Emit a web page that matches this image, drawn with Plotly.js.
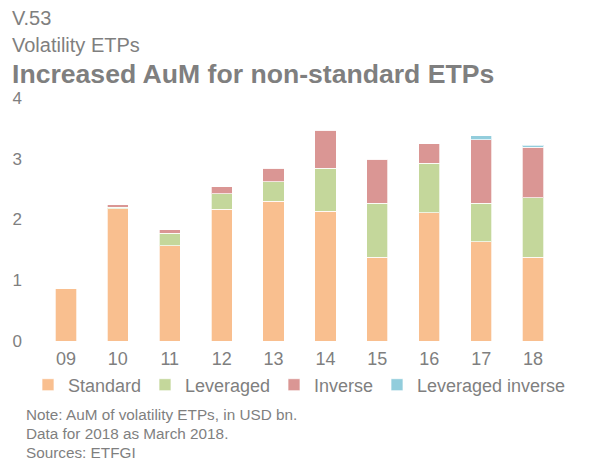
<!DOCTYPE html>
<html>
<head>
<meta charset="utf-8">
<script src="https://cdn.plot.ly/plotly-3.0.1.min.js"></script>
<style>
  body { margin: 0; background: #fff; }
  #chart { width: 589px; height: 462px; }
</style>
</head>
<body>
<div id="chart"></div>
<script>
// V.53 volatility ETPs, AuM in USD bn
const years = ["09", "10", "11", "12", "13", "14", "15", "16", "17", "18"];
const standard = [0.87, 2.18, 1.57, 2.17, 2.30, 2.14, 1.38, 2.11, 1.63, 1.38];
const leveraged = [0, 0.02, 0.20, 0.25, 0.32, 0.70, 0.89, 0.82, 0.64, 0.98];
const inverse = [0, 0.04, 0.06, 0.12, 0.22, 0.63, 0.72, 0.32, 1.04, 0.83];
const leveragedInverse = [0, 0, 0, 0, 0, 0, 0, 0, 0.07, 0.03];

const grey = "#7f7f7f";
const font = "Liberation Sans, Arial, sans-serif";
const plotW = 589 - 40 - 30;

// one legend per series so each entry sits where the original has it
function barTrace(name, values, color, legendId) {
    return {
        x: years,
        y: values,
        type: "bar",
        name: name,
        legend: legendId,
        marker: { color: color, line: { color: "rgba(255,255,255,0.7)", width: 1 } },
        hoverinfo: "x+y+name"
    };
}

function legendAt(px) {
    return {
        orientation: "h",
        x: (px - 40) / plotW,
        xanchor: "left",
        y: -0.105,
        yanchor: "top",
        bgcolor: "rgba(0,0,0,0)",
        font: { size: 18, color: grey },
        itemwidth: 30
    };
}

const data = [
    barTrace("Standard", standard, "#f9bf8f", "legend"),
    barTrace("Leveraged", leveraged, "#c4d79b", "legend2"),
    barTrace("Inverse", inverse, "#da9694", "legend3"),
    barTrace("Leveraged inverse", leveragedInverse, "#92cddc", "legend4")
];

const layout = {
    width: 589,
    height: 462,
    barmode: "stack",
    bargap: 0.59,
    margin: { l: 40, r: 30, t: 98, b: 121 },
    paper_bgcolor: "#fff",
    plot_bgcolor: "#fff",
    font: { family: font, size: 16, color: grey },
    xaxis: {
        type: "category",
        showline: false,
        showgrid: false,
        zeroline: false,
        ticks: "",
        ticklabelstandoff: 5,
        tickfont: { size: 18, color: grey }
    },
    yaxis: {
        range: [0, 4],
        dtick: 1,
        showgrid: false,
        showline: false,
        zeroline: false,
        ticks: "",
        ticklabelstandoff: 17,
        tickfont: { size: 17, color: grey }
    },
    showlegend: true,
    legend: legendAt(28),
    legend2: legendAt(145),
    legend3: legendAt(274),
    legend4: legendAt(377),
    annotations: [
        { text: "V.53", x: 10, y: 18, size: 20 },
        { text: "Volatility ETPs", x: 10, y: 45, size: 20 },
        { text: "<b>Increased AuM for non-standard ETPs</b>", x: 10, y: 74, size: 26.6 },
        { text: "Note: AuM of volatility ETPs, in USD bn.", x: 24, y: 414, size: 15.3 },
        { text: "Data for 2018 as March 2018.", x: 24, y: 433, size: 15.3 },
        { text: "Sources: ETFGI", x: 24, y: 452, size: 15.3 }
    ].map(a => ({
        text: a.text,
        xref: "paper",
        yref: "paper",
        x: (a.x - 40) / plotW,
        y: (462 - 121 - a.y) / (462 - 98 - 121),
        xanchor: "left",
        yanchor: "middle",
        showarrow: false,
        font: { family: font, size: a.size, color: grey }
    }))
};

Plotly.newPlot("chart", data, layout, { displayModeBar: false, staticPlot: true });
</script>
</body>
</html>
